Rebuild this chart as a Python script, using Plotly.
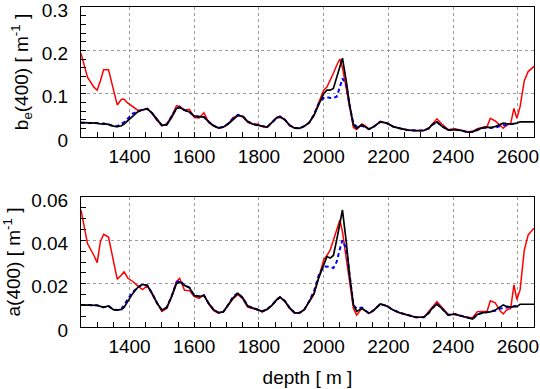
import plotly.graph_objects as go

depth = [1250, 1270, 1290, 1300, 1310, 1320, 1335, 1350, 1362, 1375, 1383, 1395, 1410, 1425, 1440, 1455,
         1470, 1485, 1500, 1515, 1530, 1545, 1555, 1570, 1585, 1600, 1615, 1630, 1645, 1660, 1675, 1690,
         1705, 1720, 1735, 1750, 1765, 1780, 1795, 1810, 1825, 1840, 1855, 1865, 1880, 1895, 1910, 1925,
         1940, 1955, 1970, 1985, 2000, 2010, 2020, 2030, 2040, 2050, 2058, 2070, 2080, 2092, 2102, 2118,
         2130, 2140, 2155, 2175, 2195, 2215, 2235, 2260, 2285, 2310, 2325, 2335, 2350, 2365, 2385, 2405,
         2425, 2445, 2460, 2475, 2490, 2505, 2515, 2530, 2545, 2555, 2565, 2578, 2588, 2597, 2607, 2620,
         2632, 2650]

# b_e(400) [1/m]
be_black = [0.033, 0.033, 0.033, 0.032, 0.030, 0.031, 0.029, 0.025, 0.024, 0.026, 0.030, 0.038, 0.050, 0.058, 0.063, 0.065,
            0.055, 0.040, 0.027, 0.028, 0.045, 0.066, 0.068, 0.062, 0.058, 0.048, 0.047, 0.046, 0.035, 0.026, 0.021, 0.023,
            0.030, 0.041, 0.050, 0.048, 0.036, 0.030, 0.027, 0.025, 0.023, 0.033, 0.044, 0.046, 0.040, 0.027, 0.021, 0.020,
            0.025, 0.033, 0.050, 0.075, 0.100, 0.108, 0.108, 0.112, 0.138, 0.165, 0.182, 0.128, 0.075, 0.028, 0.020, 0.028,
            0.022, 0.018, 0.024, 0.035, 0.032, 0.024, 0.020, 0.016, 0.015, 0.015, 0.020, 0.028, 0.035, 0.025, 0.016, 0.017,
            0.015, 0.011, 0.012, 0.017, 0.021, 0.022, 0.022, 0.024, 0.028, 0.032, 0.031, 0.030, 0.031, 0.032, 0.035, 0.035,
            0.035, 0.035]
be_red = [0.193, 0.138, 0.115, 0.108, 0.130, 0.155, 0.155, 0.108, 0.074, 0.087, 0.087, 0.078, 0.070, 0.062, 0.062, 0.066,
          0.054, 0.038, 0.026, 0.030, 0.048, 0.072, 0.071, 0.062, 0.064, 0.045, 0.044, 0.056, 0.033, 0.025, 0.020, 0.023,
          0.030, 0.045, 0.050, 0.046, 0.034, 0.030, 0.030, 0.024, 0.022, 0.033, 0.046, 0.048, 0.040, 0.026, 0.020, 0.020,
          0.025, 0.033, 0.050, 0.080, 0.108, 0.115, 0.130, 0.147, 0.165, 0.180, 0.160, 0.110, 0.065, 0.022, 0.017, 0.030,
          0.025, 0.018, 0.024, 0.036, 0.032, 0.024, 0.020, 0.016, 0.014, 0.015, 0.021, 0.030, 0.042, 0.030, 0.017, 0.019,
          0.015, 0.012, 0.013, 0.019, 0.022, 0.024, 0.043, 0.037, 0.027, 0.020, 0.027, 0.031, 0.066, 0.043, 0.070, 0.130,
          0.151, 0.163]
be_blue = [0.033, 0.033, 0.033, 0.032, 0.030, 0.031, 0.029, 0.025, 0.025, 0.030, 0.034, 0.043, 0.054, 0.059, 0.063, 0.065,
           0.055, 0.040, 0.027, 0.029, 0.046, 0.066, 0.069, 0.062, 0.058, 0.048, 0.047, 0.046, 0.035, 0.026, 0.021, 0.023,
           0.031, 0.043, 0.051, 0.048, 0.036, 0.030, 0.027, 0.025, 0.023, 0.033, 0.045, 0.047, 0.040, 0.027, 0.021, 0.020,
           0.025, 0.033, 0.052, 0.078, 0.090, 0.092, 0.090, 0.090, 0.093, 0.115, 0.135, 0.120, 0.072, 0.030, 0.024, 0.026,
           0.022, 0.018, 0.024, 0.035, 0.032, 0.024, 0.020, 0.016, 0.015, 0.015, 0.020, 0.028, 0.035, 0.025, 0.016, 0.017,
           0.015, 0.011, 0.012, 0.017, 0.021, 0.022, 0.021, 0.022, 0.025, 0.027, 0.027, 0.030, 0.030, 0.031, None, None,
           None, None]

# a(400) [1/m]
a_black = [0.0102, 0.0102, 0.0102, 0.0100, 0.0095, 0.0091, 0.0097, 0.0080, 0.0078, 0.0081, 0.0090, 0.0120, 0.0155, 0.0182, 0.0196, 0.0192,
           0.0155, 0.0110, 0.0078, 0.0090, 0.0140, 0.0200, 0.0208, 0.0192, 0.0182, 0.0145, 0.0140, 0.0146, 0.0108, 0.0080, 0.0066, 0.0070,
           0.0100, 0.0135, 0.0155, 0.0135, 0.0097, 0.0088, 0.0080, 0.0072, 0.0082, 0.0100, 0.0125, 0.0137, 0.0120, 0.0088, 0.0066, 0.0065,
           0.0080, 0.0115, 0.0155, 0.0228, 0.0288, 0.0325, 0.0318, 0.0330, 0.0400, 0.0480, 0.0540, 0.0390, 0.0240, 0.0102, 0.0072, 0.0085,
           0.0075, 0.0063, 0.0078, 0.0106, 0.0097, 0.0078, 0.0066, 0.0055, 0.0045, 0.0045, 0.0065, 0.0086, 0.0106, 0.0086, 0.0055, 0.0060,
           0.0051, 0.0041, 0.0037, 0.0058, 0.0065, 0.0068, 0.0070, 0.0078, 0.0095, 0.0102, 0.0095, 0.0092, 0.0094, 0.0094, 0.0105, 0.0106,
           0.0106, 0.0105]
a_red = [0.0540, 0.0385, 0.0330, 0.0297, 0.0395, 0.0428, 0.0415, 0.0300, 0.0220, 0.0240, 0.0255, 0.0225, 0.0210, 0.0190, 0.0173, 0.0190,
         0.0150, 0.0105, 0.0072, 0.0085, 0.0140, 0.0210, 0.0225, 0.0170, 0.0168, 0.0140, 0.0132, 0.0148, 0.0105, 0.0075, 0.0064, 0.0070,
         0.0100, 0.0130, 0.0150, 0.0130, 0.0092, 0.0085, 0.0082, 0.0070, 0.0080, 0.0100, 0.0128, 0.0140, 0.0118, 0.0085, 0.0064, 0.0065,
         0.0080, 0.0115, 0.0150, 0.0230, 0.0310, 0.0330, 0.0355, 0.0400, 0.0450, 0.0494, 0.0440, 0.0320, 0.0200, 0.0085, 0.0055, 0.0086,
         0.0075, 0.0063, 0.0078, 0.0106, 0.0097, 0.0078, 0.0065, 0.0053, 0.0044, 0.0046, 0.0070, 0.0090, 0.0117, 0.0092, 0.0058, 0.0058,
         0.0049, 0.0045, 0.0043, 0.0071, 0.0072, 0.0073, 0.0121, 0.0112, 0.0075, 0.0060, 0.0078, 0.0086, 0.0194, 0.0127, 0.0171, 0.0355,
         0.0425, 0.0456]
a_blue = [0.0102, 0.0102, 0.0102, 0.0100, 0.0095, 0.0091, 0.0097, 0.0080, 0.0078, 0.0085, 0.0100, 0.0130, 0.0160, 0.0184, 0.0196, 0.0192,
          0.0155, 0.0110, 0.0078, 0.0090, 0.0142, 0.0205, 0.0215, 0.0192, 0.0182, 0.0145, 0.0142, 0.0146, 0.0108, 0.0080, 0.0066, 0.0070,
          0.0102, 0.0140, 0.0157, 0.0135, 0.0097, 0.0088, 0.0080, 0.0072, 0.0082, 0.0100, 0.0127, 0.0137, 0.0120, 0.0088, 0.0066, 0.0065,
          0.0080, 0.0118, 0.0165, 0.0240, 0.0280, 0.0278, 0.0278, 0.0272, 0.0300, 0.0360, 0.0400, 0.0360, 0.0230, 0.0100, 0.0085, 0.0090,
          0.0075, 0.0063, 0.0078, 0.0106, 0.0097, 0.0078, 0.0066, 0.0055, 0.0045, 0.0045, 0.0065, 0.0086, 0.0106, 0.0086, 0.0055, 0.0060,
          0.0051, 0.0041, 0.0037, 0.0058, 0.0065, 0.0068, 0.0070, 0.0075, 0.0085, 0.0088, 0.0090, 0.0092, 0.0095, 0.0098, None, None,
          None, None]

x_ticks = [1400, 1600, 1800, 2000, 2200, 2400, 2600]

FONT = "Liberation Sans, Arial, Helvetica, sans-serif"
fig = go.Figure()

for ys, yb, yk, xa, ya in [(be_red, be_blue, be_black, "x", "y"), (a_red, a_blue, a_black, "x2", "y2")]:
    fig.add_trace(go.Scatter(x=depth, y=ys, mode="lines", line=dict(color="#ff0000", width=1.5),
                             xaxis=xa, yaxis=ya, showlegend=False))
    fig.add_trace(go.Scatter(x=depth, y=yb, mode="lines", line=dict(color="#0000ff", width=2, dash="4px,3px"),
                             xaxis=xa, yaxis=ya, showlegend=False))
    fig.add_trace(go.Scatter(x=depth, y=yk, mode="lines", line=dict(color="#000000", width=1.7),
                             xaxis=xa, yaxis=ya, showlegend=False))

common_x = dict(range=[1250, 2650], tickvals=x_ticks, ticks="inside", ticklen=5, tickcolor="black",
                showline=True, linecolor="black", linewidth=1, mirror=True, automargin=False,
                ticklabeloverflow="allow",
                showgrid=True, gridcolor="#9a9a9a", griddash="dot", gridwidth=1, zeroline=False,
                minor=dict(dtick=50, tick0=1250, ticks="inside", ticklen=5, tickcolor="black", showgrid=False),
                tickfont=dict(size=19, color="black", family=FONT), ticklabelstandoff=2)
common_y = dict(ticks="inside", ticklen=5, tickcolor="black", automargin=False,
                ticklabeloverflow="allow", ticklabelshift=3,
                showline=True, linecolor="black", linewidth=1, mirror=True,
                showgrid=True, gridcolor="#9a9a9a", griddash="dot", gridwidth=1, zeroline=False,
                tickfont=dict(size=19, color="black", family=FONT), ticklabelstandoff=8)

fig.update_layout(
    width=540, height=389,
    margin=dict(l=81, r=6, t=7, b=62),
    paper_bgcolor="white", plot_bgcolor="white",
    font=dict(family=FONT, color="black", size=19),
    xaxis=dict(common_x, domain=[0, 1], anchor="y"),
    yaxis=dict(common_y, domain=[0.59375, 1], anchor="x", range=[0, 0.3], dtick=0.1,
               minor=dict(dtick=0.02, ticks="inside", ticklen=5, tickcolor="black", showgrid=False),
               title=dict(text="b<sub>e</sub>(400) [ m<sup>-1</sup> ]", standoff=8,
                          font=dict(size=19, family=FONT))),
    xaxis2=dict(common_x, domain=[0, 1], anchor="y2",
                title=dict(text="depth [ m ]", standoff=14, font=dict(size=19, family=FONT))),
    yaxis2=dict(common_y, domain=[0, 0.40625], anchor="x2", range=[0, 0.06], dtick=0.02,
                minor=dict(dtick=0.005, ticks="inside", ticklen=5, tickcolor="black", showgrid=False),
                title=dict(text="a(400) [ m<sup>-1</sup> ]", standoff=8,
                           font=dict(size=19, family=FONT))),
)

fig.write_html("out.html", config={"displayModeBar": False},
               post_script="document.body.style.margin='0';document.body.style.overflow='hidden';")
